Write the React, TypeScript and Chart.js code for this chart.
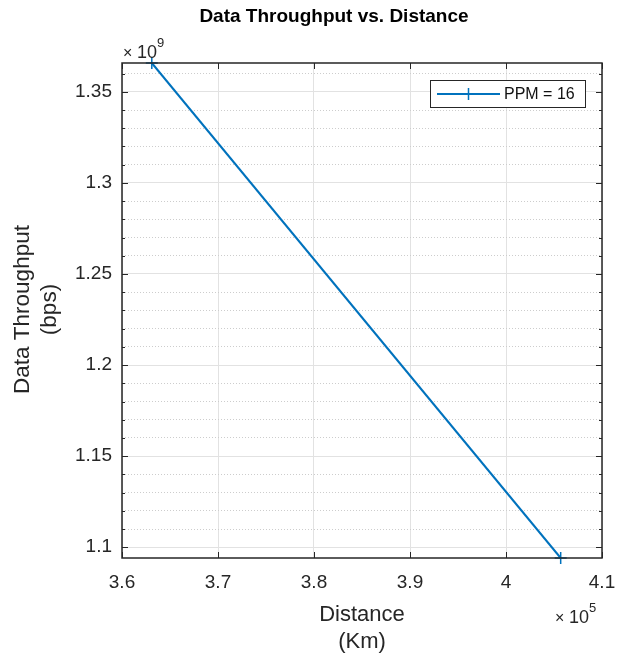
import React, { useEffect, useRef } from 'react';
import { Chart, registerables } from 'chart.js';

Chart.register(...registerables);

// ---- Data ----
const distanceKm = [363104, 405696];
const throughputBps = [1.3658e9, 1.0941e9];
const seriesLabel = 'PPM = 16';

// ---- Texts ----
const chartTitle = 'Data Throughput vs. Distance';
const xAxisTitle = ['Distance', '(Km)'];
const yAxisTitle = ['Data Throughput', '(bps)'];

// ---- Axis scaling / ticks ----
const xExponent = 5;
const yExponent = 9;
const xLimits = [3.6, 4.1];
const xTickValues = [3.6, 3.7, 3.8, 3.9, 4.0, 4.1];
const xTickLabels = ['3.6', '3.7', '3.8', '3.9', '4', '4.1'];
const yMajorTickValues = [1.1, 1.15, 1.2, 1.25, 1.3, 1.35];
const yMajorTickLabels = ['1.1', '1.15', '1.2', '1.25', '1.3', '1.35'];
const yMinorTickValues = [
  1.11, 1.12, 1.13, 1.14, 1.16, 1.17, 1.18, 1.19, 1.21, 1.22, 1.23, 1.24,
  1.26, 1.27, 1.28, 1.29, 1.31, 1.32, 1.33, 1.34, 1.36,
];

const FONT = '"Liberation Sans", Arial, Helvetica, sans-serif';
const AXIS_COLOR = '#262626';
const LINE_COLOR = '#0072BD';
const MAJOR_GRID = '#e2e2e2';
const MINOR_GRID = '#cdcdcd';

const near = (a: number, b: number) => Math.abs(a - b) < 1e-6;
const isMajorY = (v: number) => yMajorTickValues.some((m) => near(m, v));

const decorPlugin = {
  id: 'matlabDecor',
  afterDraw(chart: any) {
    const { ctx, chartArea } = chart;
    const { left, right, top, bottom } = chartArea;
    const xs = chart.scales.x;
    const ys = chart.scales.y;
    ctx.save();

    // axes box
    ctx.strokeStyle = AXIS_COLOR;
    ctx.lineWidth = 1.5;
    ctx.setLineDash([]);
    ctx.strokeRect(left, top, right - left, bottom - top);

    // inward tick marks
    ctx.lineWidth = 1;
    ctx.beginPath();
    ys.ticks.forEach((t: any) => {
      const p = Math.round(ys.getPixelForValue(t.value)) + 0.5;
      const len = isMajorY(t.value) ? 6 : 3;
      ctx.moveTo(left, p);
      ctx.lineTo(left + len, p);
      ctx.moveTo(right, p);
      ctx.lineTo(right - len, p);
    });
    xs.ticks.forEach((t: any) => {
      const p = Math.round(xs.getPixelForValue(t.value)) + 0.5;
      ctx.moveTo(p, bottom);
      ctx.lineTo(p, bottom - 6);
      ctx.moveTo(p, top);
      ctx.lineTo(p, top + 6);
    });
    ctx.stroke();

    // title
    ctx.fillStyle = '#000';
    ctx.font = `bold 19px ${FONT}`;
    ctx.textAlign = 'center';
    ctx.textBaseline = 'alphabetic';
    ctx.fillText(chartTitle, 334, 22);

    // x axis title
    ctx.fillStyle = AXIS_COLOR;
    ctx.font = `22px ${FONT}`;
    ctx.fillText(xAxisTitle[0], (left + right) / 2, 621);
    ctx.fillText(xAxisTitle[1], (left + right) / 2, 648);

    // y axis title
    ctx.save();
    ctx.translate(0, (top + bottom) / 2 - 1);
    ctx.rotate(-Math.PI / 2);
    ctx.textAlign = 'center';
    ctx.font = `22.5px ${FONT}`;
    ctx.fillText(yAxisTitle[0], 0, 29);
    ctx.fillText(yAxisTitle[1], 0, 56);
    ctx.restore();

    // exponent labels
    const drawExp = (x: number, base: number, exp: number) => {
      ctx.textAlign = 'left';
      ctx.font = `16px ${FONT}`;
      ctx.fillText('\u00d7', x, base);
      ctx.font = `18px ${FONT}`;
      ctx.fillText('10', x + 14, base);
      const w = ctx.measureText('10').width;
      ctx.font = `13px ${FONT}`;
      ctx.fillText(String(exp), x + 14 + w, base - 11);
    };
    drawExp(left + 1, top - 5, yExponent);
    drawExp(555, 623, xExponent);

    // legend
    const ds = chart.data.datasets[0];
    const lx = right - 172;
    const ly = top + 17;
    const lw = 155;
    const lh = 27;
    ctx.fillStyle = '#fff';
    ctx.fillRect(lx, ly, lw, lh);
    ctx.strokeStyle = AXIS_COLOR;
    ctx.lineWidth = 1;
    ctx.strokeRect(lx + 0.5, ly + 0.5, lw, lh);
    const cy = ly + lh / 2 + 0.5;
    ctx.strokeStyle = ds.borderColor;
    ctx.lineWidth = 2;
    ctx.beginPath();
    ctx.moveTo(lx + 7, cy);
    ctx.lineTo(lx + 70, cy);
    ctx.stroke();
    ctx.lineWidth = 1.5;
    ctx.beginPath();
    ctx.moveTo(lx + 38.5, cy - 6);
    ctx.lineTo(lx + 38.5, cy + 6);
    ctx.moveTo(lx + 32.5, cy);
    ctx.lineTo(lx + 44.5, cy);
    ctx.stroke();
    ctx.fillStyle = '#111';
    ctx.font = `16px ${FONT}`;
    ctx.textAlign = 'left';
    ctx.textBaseline = 'middle';
    ctx.fillText(ds.label, lx + 74, cy + 1);

    ctx.restore();
  },
};

export default function App() {
  const canvasRef = useRef<HTMLCanvasElement | null>(null);

  useEffect(() => {
    document.body.style.margin = '0';
    const canvas = canvasRef.current;
    if (!canvas) return;

    const xs = distanceKm.map((d) => d / Math.pow(10, xExponent));
    const ysv = throughputBps.map((t) => t / Math.pow(10, yExponent));
    const points = xs.map((x, i) => ({ x, y: ysv[i] }));

    const chart = new Chart(canvas, {
      type: 'line',
      data: {
        datasets: [
          {
            label: seriesLabel,
            data: points,
            borderColor: LINE_COLOR,
            backgroundColor: LINE_COLOR,
            borderWidth: 2,
            pointStyle: 'cross',
            pointRadius: 6,
            pointBorderWidth: 1.5,
            pointBorderColor: LINE_COLOR,
            tension: 0,
            clip: false as any,
          },
        ],
      },
      options: {
        responsive: false,
        animation: false,
        devicePixelRatio: 1,
        layout: { padding: { top: 63, right: 22, left: 0, bottom: 0 } },
        plugins: {
          legend: { display: false },
          title: { display: false },
          tooltip: { enabled: false },
        },
        scales: {
          x: {
            type: 'linear',
            min: xLimits[0],
            max: xLimits[1],
            afterBuildTicks: (s: any) => {
              s.ticks = xTickValues.map((value) => ({ value }));
            },
            afterFit: (s: any) => {
              s.height = 100;
              s.paddingLeft = 0;
              s.paddingRight = 0;
            },
            ticks: {
              autoSkip: false,
              maxRotation: 0,
              padding: 13,
              color: AXIS_COLOR,
              font: { family: FONT, size: 19 },
              callback: (v: any) => {
                const i = xTickValues.findIndex((t) => near(t, Number(v)));
                return i >= 0 ? xTickLabels[i] : '';
              },
            },
            grid: { color: MAJOR_GRID, lineWidth: 1, drawTicks: false },
            border: { display: false },
          },
          y: {
            type: 'linear',
            min: Math.min(...ysv),
            max: Math.max(...ysv),
            afterBuildTicks: (s: any) => {
              const vals = [...yMajorTickValues, ...yMinorTickValues]
                .filter((v) => v >= s.min - 1e-9 && v <= s.max + 1e-9)
                .sort((a, b) => a - b);
              s.ticks = vals.map((value) => ({ value }));
            },
            afterFit: (s: any) => {
              s.width = 122;
              s.paddingTop = 0;
              s.paddingBottom = 0;
            },
            ticks: {
              autoSkip: false,
              padding: 10,
              color: AXIS_COLOR,
              font: { family: FONT, size: 19 },
              callback: (v: any) => {
                const i = yMajorTickValues.findIndex((t) => near(t, Number(v)));
                return i >= 0 ? yMajorTickLabels[i] : '';
              },
            },
            grid: {
              color: (c: any) => (c.tick && !isMajorY(c.tick.value) ? MINOR_GRID : MAJOR_GRID),
              lineWidth: 1,
              drawTicks: false,
            },
            border: {
              display: false,
              dash: (c: any) => (c.tick && !isMajorY(c.tick.value) ? [1, 2] : []),
            },
          },
        },
      },
      plugins: [decorPlugin],
    } as any);

    return () => chart.destroy();
  }, []);

  return (
    <div style={{ width: 624, height: 658 }}>
      <canvas ref={canvasRef} width={624} height={658} style={{ display: 'block' }} />
    </div>
  );
}
